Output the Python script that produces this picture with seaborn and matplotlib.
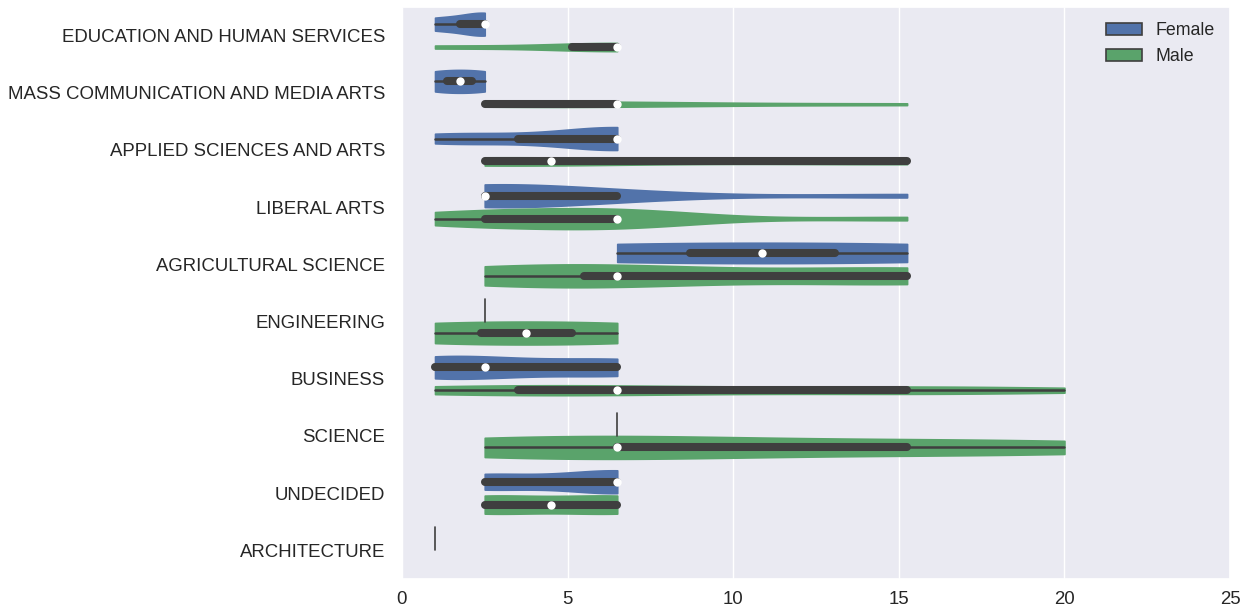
import numpy as np
import pandas as pd
import matplotlib
matplotlib.use("Agg")
import matplotlib.pyplot as plt
import seaborn as sns
from matplotlib.collections import PolyCollection

# Colleges (plotted top to bottom) and the respondent groups
majors = [
    "EDUCATION AND HUMAN SERVICES",
    "MASS COMMUNICATION AND MEDIA ARTS",
    "APPLIED SCIENCES AND ARTS",
    "LIBERAL ARTS",
    "AGRICULTURAL SCIENCE",
    "ENGINEERING",
    "BUSINESS",
    "SCIENCE",
    "UNDECIDED",
    "ARCHITECTURE",
]
genders = ["Female", "Male"]

# Answer values (bin midpoints) and how many responses fell on each one
levels = [1.0, 2.5, 6.5, 15.25, 20.0]

female_counts = [
    [1, 2, 0, 0, 0],
    [1, 1, 0, 0, 0],
    [1, 1, 4, 0, 0],
    [0, 6, 2, 1, 0],
    [0, 0, 1, 1, 0],
    [0, 1, 0, 0, 0],
    [2, 1, 2, 0, 0],
    [0, 0, 1, 0, 0],
    [0, 2, 3, 0, 0],
    [1, 0, 0, 0, 0],
]
male_counts = [
    [1, 0, 3, 0, 0],
    [0, 2, 2, 1, 0],
    [0, 4, 1, 3, 0],
    [1, 3, 5, 1, 0],
    [0, 2, 3, 3, 0],
    [1, 0, 1, 0, 0],
    [1, 2, 3, 3, 1],
    [0, 1, 2, 1, 1],
    [0, 2, 2, 0, 0],
    [0, 0, 0, 0, 0],
]

xticks = [0, 5, 10, 15, 20, 25]

# Expand the count tables into one row per response
rows = []
for gender, table in zip(genders, [female_counts, male_counts]):
    for major, counts in zip(majors, table):
        for value, n in zip(levels, counts):
            rows += [(major, gender, value)] * n
df = pd.DataFrame(rows, columns=["major", "gender", "value"])

sns.set_theme(style="darkgrid")
plt.rcParams["font.family"] = ["Liberation Sans", "DejaVu Sans"]
plt.rcParams["text.color"] = ".15"

fig, ax = plt.subplots(figsize=(12.52, 6.13), dpi=100)
fig.subplots_adjust(left=0.321, right=0.9825, top=0.9886, bottom=0.0555)

# One call per college so the Female/Male widths are scaled against each other
# within that college only.
for i, major in enumerate(majors):
    sub = df[df["major"] == major]
    sns.violinplot(
        data=sub, x="value", y="major", hue="gender",
        order=majors, hue_order=genders, orient="h", dodge=True,
        palette=["#4C72B0", "#55A868"], saturation=0.88, cut=0, inner="box",
        density_norm="area", common_norm=True,
        linewidth=1.2, linecolor="#3f3f3f",
        inner_kws=dict(box_width=5.8, whis_width=1.8, marker="o"),
        legend=(i == 0), ax=ax,
    )

# violin bodies without a dark outline
for coll in ax.collections:
    if isinstance(coll, PolyCollection):
        coll.set_edgecolor(coll.get_facecolor())

ax.set_xlim(0, 25)
ax.set_xticks(xticks)
ax.set_xlabel("")
ax.set_ylabel("")
ax.tick_params(axis="both", length=0, colors=".15", labelsize=13.4)
ax.tick_params(axis="y", pad=12)
ax.tick_params(axis="x", pad=8.5)

handles, labels = ax.get_legend_handles_labels()
seen = {}
for h, l in zip(handles, labels):
    seen.setdefault(l, h)
ax.legend([seen[g] for g in genders], genders, loc="upper right",
          frameon=False, fontsize=12.8, borderaxespad=0.45)

fig.savefig("out.png", dpi=100)
